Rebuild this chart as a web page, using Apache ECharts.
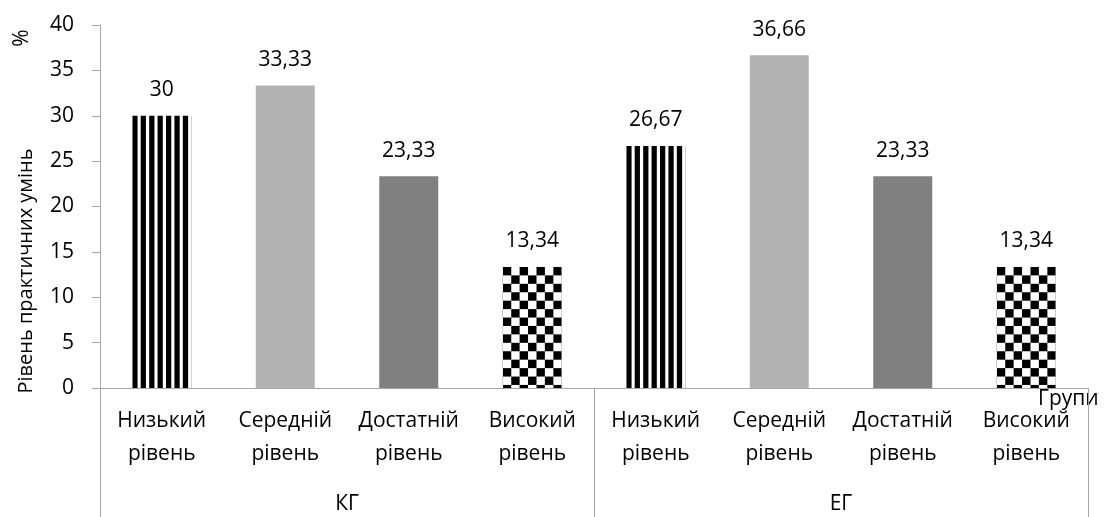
<!DOCTYPE html>
<html><head><meta charset="utf-8">
<script src="https://cdn.jsdelivr.net/npm/echarts@6/dist/echarts.min.js"></script>
<style>html,body{margin:0;padding:0;background:#fff}#c{width:1113px;height:517px}</style>
</head><body><div id="c"></div>
<script>
const categories = ['Низький\nрівень','Середній\nрівень','Достатній\nрівень','Високий\nрівень','Низький\nрівень','Середній\nрівень','Достатній\nрівень','Високий\nрівень'];
const groups = ['КГ','ЕГ'];
const values = [30, 33.33, 23.33, 13.34, 26.67, 36.66, 23.33, 13.34];
const levelIndex = [0,1,2,3,0,1,2,3];
const yTicks = {min:0, max:40, interval:5};

const FONT = 'Open Sans';
const FS = 21;
const BAR_W = 59;

function stripeCanvas(){
  const c = document.createElement('canvas'); c.width = 8; c.height = 8;
  const g = c.getContext('2d'); g.fillStyle = '#fff'; g.fillRect(0,0,8,8);
  g.fillStyle = '#000'; g.fillRect(0,0,5,8); return c;
}
function checkerCanvas(){
  const c = document.createElement('canvas'); c.width = 16; c.height = 16;
  const g = c.getContext('2d'); g.fillStyle = '#fff'; g.fillRect(0,0,16,16);
  g.fillStyle = '#000'; g.fillRect(0,0,8,8); g.fillRect(8,8,8,8); return c;
}
const stripe = stripeCanvas(), checker = checkerCanvas();
const sc = BAR_W / 56;

function fillFor(lvl, left, top){
  if (lvl === 0) return {image: stripe, repeat: 'repeat', x: left, y: 0, scaleX: sc, scaleY: 1};
  if (lvl === 1) return '#b3b3b3';
  if (lvl === 2) return '#808080';
  return {image: checker, repeat: 'repeat', x: left, y: top, scaleX: sc, scaleY: sc};
}

const chart = echarts.init(document.getElementById('c'), null, {renderer:'canvas'});

function buildData(positions){
  return values.map((v,i)=>{
    const p = positions ? positions[i] : {left:0, top:0};
    return {value: v, itemStyle: {color: fillFor(levelIndex[i], p.left, p.top)}};
  });
}

const option = {
  animation: false,
  grid: {left: 100, top: 25, right: 25, bottom: 129, containLabel: false},
  xAxis: [
    {type:'category', data: categories, position:'bottom',
     axisLine:{show:true, lineStyle:{color:'#a6a6a6', width:1}},
     axisTick:{show:false},
     axisLabel:{fontFamily: FONT, fontSize: FS, color:'#000', lineHeight: 33, margin: 17, interval: 0}},
    {type:'category', data: groups, position:'bottom', gridIndex:0,
     axisLine:{show:false},
     axisTick:{show:true, length: 130, interval: 0, lineStyle:{color:'#a6a6a6', width:1}},
     axisLabel:{fontFamily: FONT, fontSize: FS, color:'#000', margin: 106, interval: 0}}
  ],
  yAxis: {type:'value', min: yTicks.min, max: yTicks.max, interval: yTicks.interval,
    axisLine:{show:true, lineStyle:{color:'#a6a6a6'}},
    axisTick:{show:true, length: 8, lineStyle:{color:'#a6a6a6'}},
    splitLine:{show:false},
    axisLabel:{fontFamily: FONT, fontSize: FS, color:'#000', margin: 26}},
  graphic: [
    {type:'text', x: 26, y: 271, rotation: Math.PI/2, style:{text:'Рівень практичних умінь', font:'20px '+FONT, fill:'#000', align:'center', verticalAlign:'middle'}},
    {type:'text', x: 22, y: 38, rotation: Math.PI/2, style:{text:'%', font:FS+'px '+FONT, fill:'#000', align:'center', verticalAlign:'middle'}},
    {type:'text', x: 1038, y: 399, style:{text:'Групи', font:FS+'px '+FONT, fill:'#000', align:'left', verticalAlign:'middle'}}
  ],
  series: [{
    type:'bar', xAxisIndex: 0, yAxisIndex: 0, barWidth: BAR_W,
    data: buildData(null),
    label:{show:true, position:'top', distance: 15, fontFamily: FONT, fontSize: FS, color:'#000',
      formatter: p => String(p.value).replace('.', ',')}
  }]
};
chart.setOption(option);

const positions = values.map((v,i)=>{
  const cx = chart.convertToPixel({xAxisIndex:0}, i);
  const top = chart.convertToPixel({yAxisIndex:0}, v);
  return {left: cx - BAR_W/2, top: top};
});
chart.setOption({series:[{data: buildData(positions)}]});
</script>
</body></html>
